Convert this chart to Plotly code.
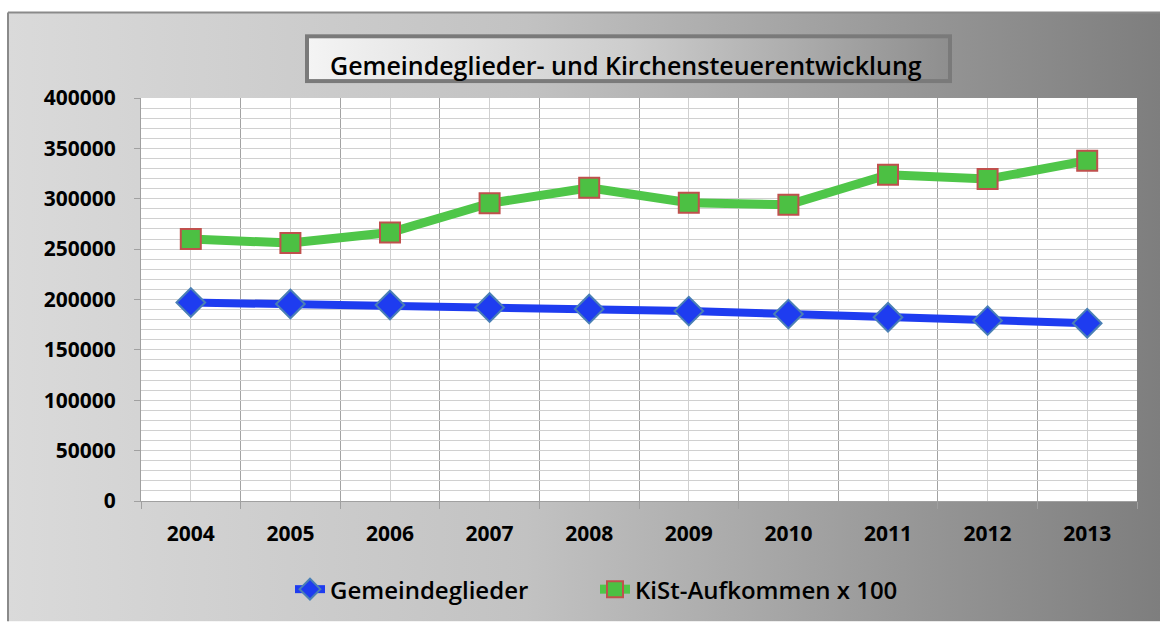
import base64
import plotly.graph_objects as go

# ---- data ----
years = [2004, 2005, 2006, 2007, 2008, 2009, 2010, 2011, 2012, 2013]
gemeindeglieder = [197000, 195500, 194500, 192000, 190500, 188500, 185500, 182300, 179000, 176500]
kist_x100 = [260000, 256000, 266500, 295500, 310800, 296000, 294000, 323800, 319500, 337800]
y_ticks = [0, 50000, 100000, 150000, 200000, 250000, 300000, 350000, 400000]
title_text = "Gemeindeglieder- und Kirchensteuerentwicklung"

# ---- geometry ----
W, H = 1160, 624
L, R, T, B = 141, 23, 98, 121
PW, PH = W - L - R, H - T - B

def px(x):
    return (x - L) / PW

def py(y):
    return (H - B - y) / PH

svg = f'''<svg xmlns="http://www.w3.org/2000/svg" width="{W}" height="{H}" viewBox="0 0 {W} {H}" preserveAspectRatio="none">
<defs>
<linearGradient id="bg" x1="0" y1="0" x2="1" y2="0">
<stop offset="0" stop-color="#dadada"/>
<stop offset="0.45" stop-color="#c2c2c2"/>
<stop offset="0.8" stop-color="#959595"/>
<stop offset="1" stop-color="#7e7e7e"/>
</linearGradient>
<linearGradient id="tb" x1="0" y1="0" x2="1" y2="0">
<stop offset="0" stop-color="#f4f4f4"/>
<stop offset="0.5" stop-color="#cdcdcd"/>
<stop offset="1" stop-color="#8e8e8e"/>
</linearGradient>
</defs>
<rect x="0" y="0" width="{W}" height="{H}" fill="#ffffff"/>
<rect x="8" y="12" width="{W - 8}" height="{H - 12}" fill="url(#bg)"/>
<line x1="8" y1="12" x2="{W}" y2="12" stroke="#8a8a8a" stroke-width="2"/>
<line x1="8" y1="12" x2="8" y2="{H}" stroke="#8a8a8a" stroke-width="2"/>
<rect x="307" y="36" width="643" height="45" fill="url(#tb)" stroke="#7a7a7a" stroke-width="4"/>
<rect x="{L}" y="{T}" width="{PW}" height="{PH}" fill="#ffffff"/>
</svg>'''
src = "data:image/svg+xml;base64," + base64.b64encode(svg.encode()).decode()

fig = go.Figure()
fig.add_trace(go.Scatter(
    x=years, y=gemeindeglieder, name="Gemeindeglieder", mode="lines+markers",
    line=dict(color="#1e3cf0", width=8),
    marker=dict(symbol="diamond", size=22, color="#1e3cf0", line=dict(color="#4a7fb5", width=2)),
    legend="legend",
))
fig.add_trace(go.Scatter(
    x=years, y=kist_x100, name="KiSt-Aufkommen x 100", mode="lines+markers",
    line=dict(color="#4fc649", width=9),
    marker=dict(symbol="square", size=20, color="#4cc043", line=dict(color="#c0504d", width=2)),
    legend="legend2",
))

tickfont = dict(family="Open Sans", size=21, color="#000000", weight="bold")
legfont = dict(family="Open Sans", size=24, color="#000000", weight=600)
fig.update_layout(
    width=W, height=H,
    margin=dict(l=L, r=R, t=T, b=B, pad=0),
    paper_bgcolor="#ffffff",
    plot_bgcolor="rgba(0,0,0,0)",
    showlegend=True,
    legend=dict(orientation="h", x=px(290), y=py(592), xanchor="left", yanchor="middle",
                font=legfont, bgcolor="rgba(0,0,0,0)", borderwidth=0),
    legend2=dict(orientation="h", x=px(595), y=py(592), xanchor="left", yanchor="middle",
                 font=legfont, bgcolor="rgba(0,0,0,0)", borderwidth=0),
    images=[dict(source=src, xref="paper", yref="paper", x=px(0), y=py(0),
                 sizex=W / PW, sizey=H / PH, xanchor="left", yanchor="top",
                 sizing="stretch", layer="below")],
    annotations=[dict(text=title_text, xref="paper", yref="paper", x=px(328), y=py(65),
                      xanchor="left", yanchor="middle", showarrow=False,
                      font=dict(family="Open Sans", size=25, color="#000000", weight=600))],
)
fig.update_xaxes(
    range=[years[0] - 0.5, years[-1] + 0.5], tickvals=years, ticks="",
    showgrid=True, gridcolor="#d0d0d0", gridwidth=1,
    showline=True, linecolor="#a0a0a0", linewidth=1,
    minor=dict(tick0=years[0] - 0.5, dtick=1, showgrid=True, gridcolor="#a3a3a3",
               ticks="outside", ticklen=7, tickcolor="#a0a0a0"),
    tickfont=tickfont, ticklabelstandoff=14, zeroline=False,
)
fig.update_yaxes(
    range=[0, 400000], tickvals=y_ticks, tickformat="d", ticks="outside", ticklen=6,
    tickcolor="#a0a0a0",
    showgrid=True, gridcolor="#d0d0d0", gridwidth=1,
    minor=dict(dtick=10000, showgrid=True, gridcolor="#d0d0d0"),
    showline=True, linecolor="#a0a0a0", linewidth=1,
    tickfont=tickfont, ticklabelstandoff=14, zeroline=False,
)
fig.write_html("out.html", config={"displayModeBar": False},
               post_script="document.body.style.margin='0px';")
